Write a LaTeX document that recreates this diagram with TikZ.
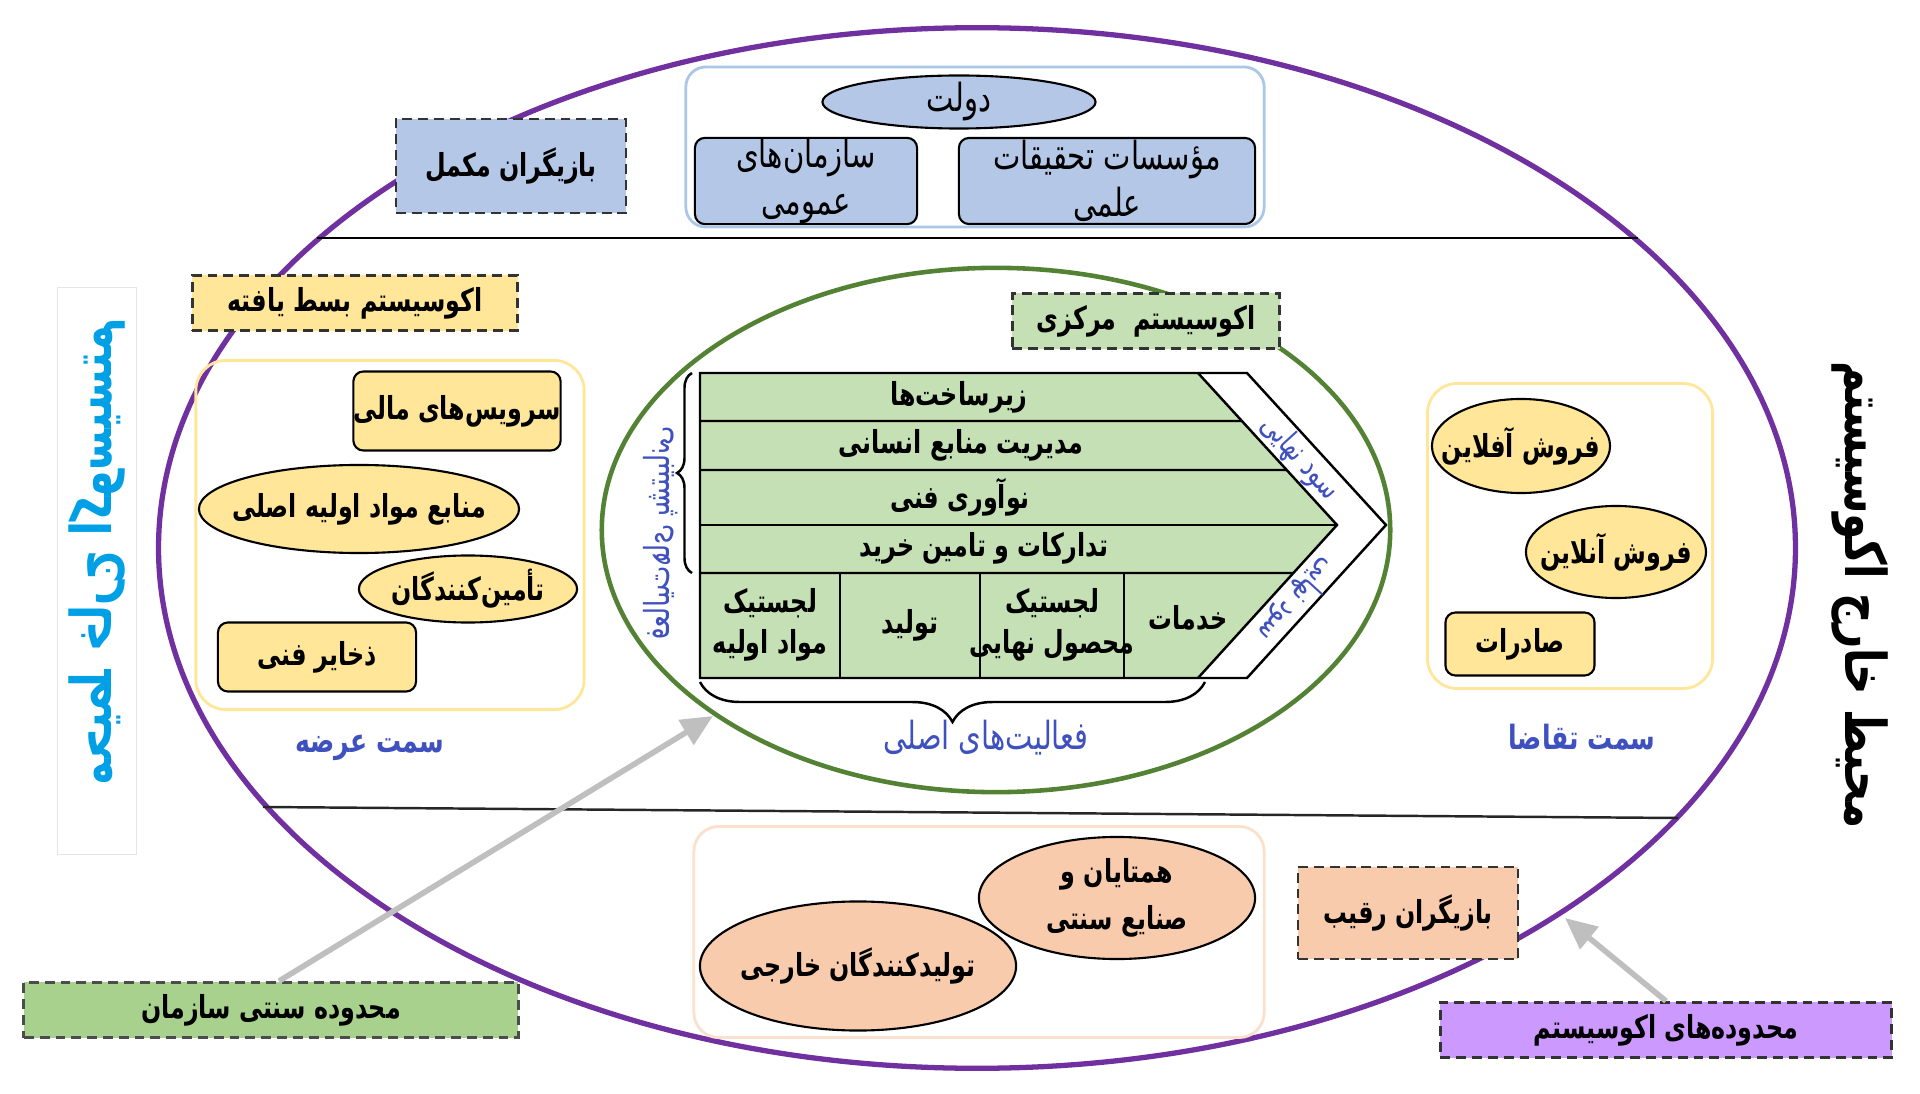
\documentclass[tikz,border=0pt]{standalone}
\usepackage{fontspec}
\usetikzlibrary{positioning,calc,shapes.geometric,decorations.pathreplacing,arrows.meta}
\TeXXeTstate=1
\newfontfamily\farsi[Script=Arabic,FakeStretch=0.75]{DejaVu Sans}
\newcommand{\fatxt}[1]{\beginR #1\endR}

\definecolor{ecoPurple}{RGB}{112,48,160}
\definecolor{coreGreen}{RGB}{84,130,53}
\definecolor{blueFill}{RGB}{180,199,231}
\definecolor{blueLine}{RGB}{170,200,230}
\definecolor{yellowFill}{RGB}{255,230,153}
\definecolor{greenFill}{RGB}{197,224,180}
\definecolor{peachFill}{RGB}{248,203,173}
\definecolor{orgGreen}{RGB}{169,209,142}
\definecolor{ecoLilac}{RGB}{204,153,255}
\definecolor{labelBlue}{RGB}{63,81,191}
\definecolor{sideCyan}{RGB}{0,160,230}
\definecolor{arrowGray}{RGB}{191,191,191}

\tikzset{
  lbl/.style={font=\farsi\bfseries\fontsize{9}{11.5}\selectfont, align=center, inner sep=0pt},
  lite/.style={font=\farsi\fontsize{11}{13.5}\selectfont, align=center, inner sep=0pt},
  card/.style={draw, line width=0.6pt, rounded corners=0.1cm},
  oval/.style={draw, line width=0.6pt, ellipse, inner xsep=-0.18cm, inner ysep=-0.1cm},
  tag/.style={lbl, draw=black!80, dash pattern=on 2.8pt off 1.7pt, line width=0.8pt},
  zone/.style={draw, rounded corners=0.3cm, line width=0.8pt},
  side/.style={font=\farsi\bfseries\fontsize{9.5}{12}\selectfont, text=labelBlue},
  note/.style={font=\farsi\fontsize{9}{10}\selectfont, text=labelBlue, inner sep=0pt},
  pointer/.style={draw=arrowGray, line width=1.6pt, -{Triangle[length=9pt,width=8pt]}}
}

\begin{document}
\begin{tikzpicture}[x=0.01cm,y=-0.01cm]
\useasboundingbox (0,0) rectangle (1920,1094);

\draw[ecoPurple, line width=1.5pt] (977,548) ellipse [x radius=8.18cm, y radius=5.2cm];
\draw[line width=0.7pt] (317,238) -- (1638,238);
\draw[black!85, line width=0.7pt] (263,807) -- (1678,818);

\node[zone, draw=blueLine, rounded corners=0.2cm, minimum width=5.78cm, minimum height=1.6cm] (gate) at (975,147) {};
\node[lite, oval, fill=blueFill, minimum width=2.73cm, minimum height=0.53cm] (gov) at (959,102) {\fatxt{دولت}};
\node[lite, card, fill=blueFill, minimum width=2.22cm, minimum height=0.86cm] (pubOrg) at (806,181) {\fatxt{سازمان^^^^200cهای}\\\fatxt{عمومی}};
\node[lite, card, fill=blueFill, minimum width=2.96cm, minimum height=0.86cm] (resInst) at (1107,181) {\fatxt{مؤسسات تحقیقات}\\\fatxt{علمی}};
\node[tag, fill=blueFill, minimum width=2.3cm, minimum height=0.94cm] (compl) at (511,166) {\fatxt{بازیگران مکمل}};

\node[tag, fill=yellowFill, minimum width=3.25cm, minimum height=0.55cm] (extEco) at (355,303) {\fatxt{اکوسیستم بسط یافته}};
\node[zone, draw=yellowFill, minimum width=3.88cm, minimum height=3.49cm] (supply) at (390,535) {};
\node[lbl, card, fill=yellowFill, minimum width=1.96cm, minimum height=0.79cm] (finServ) at (457,411) {\fatxt{سرویس^^^^200cهای مالی}};
\node[lbl, oval, fill=yellowFill, minimum width=3.2cm, minimum height=0.88cm] (rawSrc) at (359,509) {\fatxt{منابع مواد اولیه اصلی}};
\node[lbl, oval, fill=yellowFill, minimum width=2.18cm, minimum height=0.67cm] (suppl) at (468,589) {\fatxt{تأمین^^^^200cکنندگان}};
\node[lbl, card, fill=yellowFill, minimum width=1.98cm, minimum height=0.69cm] (techRes) at (317,657) {\fatxt{ذخایر فنی}};
\node[side, below=0.12cm of supply, xshift=-0.2cm] (supLbl) {\fatxt{سمت عرضه}};

\draw[coreGreen, line width=1.3pt] (996,530) ellipse [x radius=3.94cm, y radius=2.62cm];
\node[tag, fill=greenFill, minimum width=2.67cm, minimum height=0.55cm] (coreEco) at (1146,321) {\fatxt{اکوسیستم\ \ مرکزی}};

\coordinate (vcNW) at (700,373);
\coordinate (vcSW) at (700,678);
\coordinate (gTop) at (1198,373);
\coordinate (gTip) at (1337,525);
\coordinate (gBot) at (1198,678);
\coordinate (oTop) at (1247,373);
\coordinate (oTip) at (1386,525);
\coordinate (oBot) at (1247,678);
\fill[greenFill] (vcNW) -- (gTop) -- (gTip) -- (gBot) -- (vcSW) -- cycle;
\draw[line width=0.7pt] (vcNW) -- (oTop) -- (oTip) -- (oBot) -- (vcSW) -- cycle;
\draw[line width=0.7pt] (gTop) -- (gTip) -- (gBot);
\foreach \y in {421,470,525}
  \draw[line width=0.7pt] (700,\y) -- ($(gTop)!{(\y-373)/152}!(gTip)$);
\draw[line width=0.7pt] (700,573) -- ($(gTip)!{(573-525)/153}!(gBot)$);
\foreach \x in {840,980,1124}
  \draw[line width=0.7pt] (\x,573) -- (\x,678);

\node[lbl] (infra) at (959,397) {\fatxt{زیرساخت^^^^200cها}};
\node[lbl] (hrm) at (961,445) {\fatxt{مدیریت منابع انسانی}};
\node[lbl] (techInv) at (960,497) {\fatxt{نوآوری فنی}};
\node[lbl] (procure) at (984,548) {\fatxt{تدارکات و تامین خرید}};
\node[lbl] (inLog) at (770,625) {\fatxt{لجستیک}\\\fatxt{مواد اولیه}};
\node[lbl] (produce) at (910,625) {\fatxt{تولید}};
\node[lbl] (outLog) at (1052,625) {\fatxt{لجستیک}\\\fatxt{محصول نهایی}};
\node[lbl] (service) at (1188,618) {\fatxt{خدمات}};

\draw[decorate, decoration={brace, amplitude=0.15cm}, line width=0.7pt] (692,573) -- (692,373);
\draw[decorate, decoration={brace, amplitude=0.4cm}, line width=0.7pt] (1205,682) -- (700,682);
\node[note, font=\farsi\fontsize{9.8}{11}\selectfont, cm={0,-1,-1,0,(0,0)}] (supAct) at (661,533) {\fatxt{فعالیت^^^^200cهای پشتیبانی}};
\node[note, rotate=-47.6] (marginUp) at (1300,458) {\fatxt{سود نهایی}};
\node[note, rotate=-132.4] (marginDn) at (1297,600) {\fatxt{سود نهایی}};
\node[note, font=\farsi\fontsize{11}{13}\selectfont] (mainAct) at (986,738) {\fatxt{فعالیت^^^^200cهای اصلی}};

\node[zone, draw=yellowFill, minimum width=2.85cm, minimum height=3.05cm] (demand) at (1570,536) {};
\node[lbl, oval, fill=yellowFill, minimum width=1.78cm, minimum height=0.94cm] (offSale) at (1521,446) {\fatxt{فروش آفلاین}};
\node[lbl, oval, fill=yellowFill, minimum width=1.8cm, minimum height=0.92cm] (onSale) at (1616,552) {\fatxt{فروش آنلاین}};
\node[lbl, card, fill=yellowFill, minimum width=1.49cm, minimum height=0.63cm] (export) at (1520,644) {\fatxt{صادرات}};
\node[side, below=0.22cm of demand, xshift=0.12cm] (demLbl) {\fatxt{سمت تقاضا}};

\node[font=\farsi\bfseries\fontsize{16}{20}\selectfont, rotate=-90] (outerR) at (1860,595) {\fatxt{محیط خارج اکوسیستم}};
\node[draw=black!10, minimum width=0.79cm, minimum height=5.67cm] (outerBox) at (97,571) {};
\node[font=\farsi\bfseries\fontsize{16}{20}\selectfont, text=sideCyan, cm={0,-1,-1,0,(0,0)}] (outerL) at (97,552) {\fatxt{محیط خارج اکوسیستم}};

\node[zone, draw=peachFill!60, rounded corners=0.25cm, minimum width=5.7cm, minimum height=2.11cm] (rivalZone) at (979,932) {};
\node[lbl, oval, fill=peachFill, minimum width=2.76cm, minimum height=1.22cm] (peers) at (1117,898) {\fatxt{همتایان و}\\[2pt]\fatxt{صنایع سنتی}};
\node[lbl, oval, fill=peachFill, minimum width=3.16cm, minimum height=1.29cm] (foreign) at (858,966) {\fatxt{تولیدکنندگان خارجی}};
\node[tag, fill=peachFill, minimum width=2.2cm, minimum height=0.92cm] (rival) at (1408,913) {\fatxt{بازیگران رقیب}};
\node[tag, fill=orgGreen, draw=black!70, minimum width=4.94cm, minimum height=0.55cm] (orgBox) at (271,1010) {\fatxt{محدوده سنتی سازمان}};
\node[tag, fill=ecoLilac, minimum width=4.51cm, minimum height=0.55cm] (ecoBox) at (1666,1030) {\fatxt{محدوده^^^^200cهای اکوسیستم}};

\coordinate (orgTip) at (713,716);
\coordinate (ecoTip) at (1565,918);
\draw[pointer] ([xshift=0.08cm]orgBox.north) -- (orgTip);
\draw[pointer] (ecoBox.north) -- (ecoTip);
\end{tikzpicture}
\end{document}
